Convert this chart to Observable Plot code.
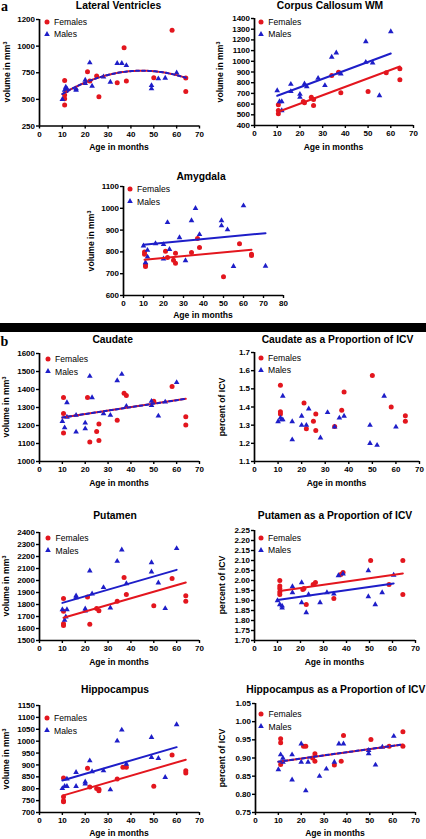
<!DOCTYPE html>
<html><head><meta charset="utf-8">
<script src="https://cdn.jsdelivr.net/npm/d3@7"></script>
<script src="https://cdn.jsdelivr.net/npm/@observablehq/plot@0.6"></script>
<style>
html,body{margin:0;padding:0;background:#fff;}
#chart{position:relative;width:426px;height:839px;overflow:hidden;font-family:"Liberation Sans",Arial,sans-serif;color:#000;background:#fff;}
.t{position:absolute;white-space:nowrap;line-height:1;}
sup{font-size:0.62em;vertical-align:0.55em;line-height:0;}
</style></head><body><div id="chart"></div>
<script>
// ---------------- DATA (age in months, value) ----------------
const ageTicks70 = [0,10,20,30,40,50,60,70];
const ageTicks80 = [0,10,20,30,40,50,60,70,80];

const lvYTicks = [250,500,750,1000,1250];
const lvYLabels = ["250","500","750","1000","1200"];
const lvFemales = [[11,678],[11,541],[11,506],[11,447],[21,759],[22,672],[25,719],[26,525],[34,656],[37,984],[38,672],[50,703],[58,1150],[64,700],[64,575]];
const lvMales = [[10,500],[11,588],[11.5,616],[12,600],[11.5,575],[16,600],[16,588],[20,681],[20,650],[22,844],[23,625],[28,712],[31,662],[34,838],[36,838],[38,819],[49,631],[49,600],[52,694],[55,700],[60,750]];

const ccYTicks = [400,500,600,700,800,900,1000,1100,1200,1300,1400];
const ccFemales = [[10.5,593],[10.5,540],[10.5,509],[21.5,624],[22,612],[25,665],[26,643],[26,587],[34,867],[37,898],[38,705],[50,718],[58,892],[64,930],[64,827]];
const ccMales = [[10,727],[11,624],[12,624],[12,540],[16,786],[16,718],[20,693],[20,665],[22,789],[23,764],[28,842],[31,774],[34,1039],[36,1079],[38,883],[49,1185],[49,992],[52,986],[55,680],[60,1278]];

const amYTicks = [600,700,800,900,1000,1100];
const amFemales = [[10.5,800],[10.5,789],[11,740],[11,733],[21,803],[22,774],[25,762],[26,794],[26,748],[34,797],[37,862],[38,820],[50,686],[58,837],[64,789],[64,783]];
const amMales = [[10,828],[12,808],[12,777],[11,751],[16,838],[20,834],[20,768],[22,935],[23,812],[28,866],[31,760],[34,944],[36,1000],[38,880],[49,944],[49,920],[52,902],[55,734],[60,1012],[71,735]];

const caYTicks = [1000,1100,1200,1300,1400,1500,1600];
const caFemales = [[10.5,1355],[10.5,1266],[10.5,1158],[21,1355],[22,1108],[25,1167],[26,1208],[26,1117],[34,1229],[37,1379],[38,1366],[50,1335],[58,1416],[64,1249],[64,1203]];
const caMales = [[10,1223],[11,1188],[12,1327],[12,1247],[16,1164],[16,1257],[20,1214],[20,1182],[22,1474],[23,1355],[28,1266],[31,1257],[34,1450],[36,1485],[38,1307],[49,1335],[49,1312],[52,1253],[55,1331],[60,1439]];

const caiYTicks = [1.1,1.2,1.3,1.4,1.5,1.6,1.7];
const caiFemales = [[11,1.52],[11,1.374],[11,1.361],[21,1.422],[22,1.28],[25,1.321],[26,1.361],[26,1.27],[34,1.292],[37,1.382],[38,1.482],[50,1.573],[58,1.40],[64,1.352],[64,1.321]];
const caiMales = [[10,1.32],[11,1.34],[11.5,1.33],[12,1.46],[12,1.33],[16,1.32],[16,1.22],[20,1.35],[20,1.30],[22,1.30],[23,1.39],[28,1.23],[31,1.37],[34,1.29],[36,1.34],[38,1.35],[49,1.30],[49,1.20],[52,1.19],[55,1.46],[60,1.29]];

const puYTicks = [1500,1600,1700,1800,1900,2000,2100,2200,2300,2400];
const puFemales = [[10.5,1850],[10.5,1744],[10.5,1640],[10.5,1625],[21,1862],[22,1636],[25,1767],[26,1747],[34,1828],[37,2025],[38,1883],[50,1789],[58,2017],[64,1872],[64,1828]];
const puMales = [[10,1758],[11,1669],[12,1758],[11.5,1697],[16,1872],[16,1858],[20,1764],[20,1747],[22,2081],[23,1889],[28,1942],[31,1772],[34,2161],[36,2256],[38,1975],[49,2150],[49,2072],[52,1981],[55,1767],[60,2267]];

const puiYTicks = [1.70,1.75,1.80,1.85,1.90,1.95,2.00,2.05,2.10,2.15,2.20,2.25];
const puiFemales = [[11,2.00],[11,1.973],[11,1.96],[11,1.943],[11,1.93],[21,1.955],[21.5,1.96],[22.5,1.88],[25.5,1.98],[26.5,1.99],[34.5,1.91],[37.5,2.03],[38.5,2.04],[50.5,2.10],[58.5,1.98],[64.5,2.10],[64.5,1.93]];
const puiMales = [[10,1.90],[11,1.88],[12,1.873],[12,1.863],[16.5,1.97],[16.5,1.94],[20.5,1.99],[20.5,1.89],[22.5,1.84],[23.5,1.93],[28.5,1.89],[31.5,1.94],[34.5,1.933],[36.5,2.025],[38.5,2.033],[49.5,2.05],[49.5,1.92],[52.5,1.88],[55.5,1.94],[60.5,2.027]];

const hiYTicks = [700,750,800,850,900,950,1000,1050,1100,1150];
const hiFemales = [[10.5,845],[10.5,766],[10.5,749],[10.5,745],[21,886],[22,807],[25,801],[26,798],[26,791],[34,841],[36.5,890],[38,890],[50,810],[58,942],[64,876],[64,866]];
const hiMales = [[10,801],[11,810],[12,841],[12,810],[16,869],[16,810],[20,829],[20,820],[22,918],[23,872],[28,876],[31,796],[34,1001],[36,1047],[38,904],[49,1016],[49,932],[52,928],[55,848],[60,1070]];

const hiiYTicks = [0.75,0.80,0.85,0.90,0.95,1.00,1.05];
const hiiFemales = [[11,0.953],[11,0.942],[11,0.882],[21,0.932],[22,0.932],[25,0.90],[26,0.912],[26,0.891],[34.5,0.881],[37.5,0.891],[38.5,0.962],[50.5,0.951],[58.5,0.932],[64.5,0.972],[64.5,0.932]];
const hiiMales = [[10,0.868],[11,0.909],[12,0.90],[12,0.889],[16,0.909],[16,0.84],[20,0.939],[20,0.889],[22,0.81],[23,0.889],[28,0.85],[31,0.87],[34.5,0.889],[36.5,0.939],[38.5,0.939],[49.5,0.921],[49.5,0.912],[52.5,0.881],[55.5,0.93],[60.5,0.96]];

// ---------------- STYLE / LAYOUT ----------------
const RED = "#e3161e", BLUE = "#1e1ec8";
const FONT = '"Liberation Sans", Arial, Helvetica, sans-serif';
const root = document.getElementById("chart");

function txt(html, x, y, o = {}) {
  const d = document.createElement("div");
  d.className = "t";
  d.innerHTML = html;
  d.style.left = x + "px";
  d.style.top = y + "px";
  d.style.fontSize = (o.size || 10) + "px";
  d.style.fontWeight = o.weight || "bold";
  if (o.family) d.style.fontFamily = o.family;
  d.style.transform = (o.left ? "translate(0,-50%)" : "translate(-50%,-50%)") + (o.rotate ? " rotate(-90deg)" : "");
  root.appendChild(d);
  return d;
}

function legend(cx, cy) {
  const gap = 12.3;
  const s = document.createElementNS("http://www.w3.org/2000/svg", "svg");
  s.setAttribute("width", 10); s.setAttribute("height", 24);
  s.style.position = "absolute"; s.style.left = (cx - 5) + "px"; s.style.top = (cy - 5) + "px"; s.style.overflow = "visible";
  s.innerHTML = `<circle cx="5" cy="5" r="2.5" fill="${RED}"/>` +
    `<path d="${d3.symbol(d3.symbolTriangle, Math.PI * 2.1 * 2.1)()}" transform="translate(5,${5 + gap})" fill="${BLUE}"/>`;
  root.appendChild(s);
  txt("Females", cx + 7.3, cy, {size: 8.6, weight: "normal", left: true});
  txt("Males", cx + 7.3, cy + gap, {size: 8.6, weight: "normal", left: true});
}

// quadratic least squares on pooled data
function quadFit(pts) {
  let n = 0, sx = 0, sx2 = 0, sx3 = 0, sx4 = 0, sy = 0, sxy = 0, sx2y = 0;
  for (const {x, y} of pts) { n++; sx += x; sx2 += x*x; sx3 += x**3; sx4 += x**4; sy += y; sxy += x*y; sx2y += x*x*y; }
  const A = [[n, sx, sx2, sy], [sx, sx2, sx3, sxy], [sx2, sx3, sx4, sx2y]];
  for (let i = 0; i < 3; i++) {
    for (let k = i + 1; k < 3; k++) {
      const f = A[k][i] / A[i][i];
      for (let j = i; j < 4; j++) A[k][j] -= f * A[i][j];
    }
  }
  const c = [0, 0, 0];
  for (let i = 2; i >= 0; i--) {
    let s = A[i][3];
    for (let j = i + 1; j < 3; j++) s -= A[i][j] * c[j];
    c[i] = s / A[i][i];
  }
  const [x0, x1] = d3.extent(pts, d => d.x);
  return d3.range(x0, x1 + 1e-9, (x1 - x0) / 80).map(x => ({x, y: c[0] + c[1]*x + c[2]*x*x}));
}

// ANCOVA-style fit: common (pooled within-group) slope, separate intercepts per group
function parallelFit(groups) {
  let sxy = 0, sxx = 0;
  const stats = groups.map(g => {
    const mx = d3.mean(g, d => d.x), my = d3.mean(g, d => d.y);
    for (const d of g) { sxy += (d.x - mx) * (d.y - my); sxx += (d.x - mx) ** 2; }
    return {mx, my, ext: d3.extent(g, d => d.x)};
  });
  const b = sxy / sxx;
  return stats.map(s => s.ext.map(x => ({x, y: s.my + b * (x - s.mx)})));
}

function panel(p) {
  const mL = 38, mR = 8, mT = 8, mB = 18;
  const W = p.fx[1] - p.fx[0] + mL + mR, H = p.fy[1] - p.fy[0] + mT + mB;
  const F = p.f.map(([x, y]) => ({x, y}));
  const M = p.m.map(([x, y]) => ({x, y}));
  const all = F.concat(M);
  const marks = [
    Plot.axisX({ticks: p.xTicks, tickSize: 3, tickPadding: 2, label: null, strokeWidth: 1.4, tickFormat: d3.format("d")}),
    Plot.axisY({ticks: p.yTicks, tickSize: 3, tickPadding: 1.5, label: null, strokeWidth: 1.4, tickFormat: p.yFmt}),
    Plot.ruleX([p.xDomain[0]], {strokeWidth: 1.7}),
    Plot.ruleY([p.yDomain[0]], {strokeWidth: 1.7}),
    Plot.dot(F, {x: "x", y: "y", r: 2.5, fill: RED, symbol: "circle"}),
    Plot.dot(M, {x: "x", y: "y", r: 2.1, fill: BLUE, symbol: "triangle"})
  ];
  if (p.fit === "sex") {
    const [lf, lm] = parallelFit([F, M]);
    marks.push(Plot.line(lf, {x: "x", y: "y", stroke: RED, strokeWidth: 2}));
    marks.push(Plot.line(lm, {x: "x", y: "y", stroke: BLUE, strokeWidth: 2}));
  } else if (p.fit === "all") {
    marks.push(Plot.linearRegressionY(all, {x: "x", y: "y", stroke: RED, strokeWidth: 2, ci: 0}));
    marks.push(Plot.linearRegressionY(all, {x: "x", y: "y", stroke: BLUE, strokeWidth: 2, ci: 0, strokeDasharray: "3,3"}));
  } else if (p.fit === "quad") {
    const curve = quadFit(all);
    marks.push(Plot.line(curve, {x: "x", y: "y", stroke: RED, strokeWidth: 2}));
    marks.push(Plot.line(curve, {x: "x", y: "y", stroke: BLUE, strokeWidth: 2, strokeDasharray: "3,3"}));
  }
  const svg = Plot.plot({
    width: W, height: H, marginLeft: mL, marginRight: mR, marginTop: mT, marginBottom: mB,
    x: {domain: p.xDomain}, y: {domain: p.yDomain},
    style: {fontFamily: FONT, fontSize: "8px", fontWeight: "bold", color: "#000", background: "transparent", overflow: "visible"},
    marks
  });
  svg.style.position = "absolute";
  svg.style.left = (p.fx[0] - mL) + "px";
  svg.style.top = (p.fy[0] - mT) + "px";
  svg.style.maxWidth = "none";
  root.appendChild(svg);

  txt(p.title, p.titleX, p.titleY, {size: 10.3});
  txt("Age in months", (p.fx[0] + p.fx[1]) / 2, p.xlabY, {size: 8.6});
  txt(p.ylab, p.ylabX, (p.fy[0] + p.fy[1]) / 2, {size: 8.6, rotate: true});
  legend(p.leg[0], p.leg[1]);
}

const VOL = "volume in mm<sup>3</sup>", PCT = "percent of ICV";
const fmtD = d3.format("d"), f1 = d3.format(".1f"), f2 = d3.format(".2f");

const panels = [
  {title: "Lateral Ventricles", titleX: 118.5, titleY: 5.5, fx: [39, 199], fy: [18.5, 125], xDomain: [0, 70], xTicks: ageTicks70,
   yDomain: [250, 1250], yTicks: lvYTicks, yFmt: d => lvYLabels[lvYTicks.indexOf(d)], ylab: VOL, ylabX: 6.7, xlabY: 146.7, leg: [46.7, 21.7], fit: "quad", f: lvFemales, m: lvMales},
  {title: "Corpus Callosum WM", titleX: 330, titleY: 5.5, fx: [254, 413], fy: [18, 125], xDomain: [0, 70], xTicks: ageTicks70,
   yDomain: [400, 1400], yTicks: ccYTicks, yFmt: fmtD, ylab: VOL, ylabX: 220, xlabY: 146.7, leg: [261, 21.7], fit: "sex", f: ccFemales, m: ccMales},
  {title: "Amygdala", titleX: 201, titleY: 176.7, fx: [123, 283], fy: [186, 295], xDomain: [0, 80], xTicks: ageTicks80,
   yDomain: [600, 1100], yTicks: amYTicks, yFmt: fmtD, ylab: VOL, ylabX: 90.5, xlabY: 315, leg: [129.7, 189.3], fit: "sex", f: amFemales, m: amMales},
  {title: "Caudate", titleX: 112.7, titleY: 340, fx: [39, 199], fy: [353, 461], xDomain: [0, 70], xTicks: ageTicks70,
   yDomain: [1000, 1600], yTicks: caYTicks, yFmt: fmtD, ylab: VOL, ylabX: 5.5, xlabY: 483.3, leg: [47.7, 359.3], fit: "all", f: caFemales, m: caMales},
  {title: "Caudate as a Proportion of ICV", titleX: 337.5, titleY: 340, fx: [254, 419], fy: [352, 461], xDomain: [0, 70], xTicks: ageTicks70,
   yDomain: [1.1, 1.7], yTicks: caiYTicks, yFmt: f1, ylab: PCT, ylabX: 222.3, xlabY: 483.3, leg: [260.7, 357.7], fit: "none", f: caiFemales, m: caiMales},
  {title: "Putamen", titleX: 115, titleY: 515.7, fx: [39, 199], fy: [532, 640], xDomain: [0, 70], xTicks: ageTicks70,
   yDomain: [1500, 2400], yTicks: puYTicks, yFmt: fmtD, ylab: VOL, ylabX: 5.5, xlabY: 661.7, leg: [48.3, 538.3], fit: "sex", f: puFemales, m: puMales},
  {title: "Putamen as a Proportion of ICV", titleX: 335, titleY: 515.7, fx: [254, 415], fy: [530, 640], xDomain: [0, 70], xTicks: ageTicks70,
   yDomain: [1.70, 2.25], yTicks: puiYTicks, yFmt: f2, ylab: PCT, ylabX: 222.3, xlabY: 661.7, leg: [260.7, 537.7], fit: "sex", f: puiFemales, m: puiMales},
  {title: "Hippocampus", titleX: 115, titleY: 690, fx: [39, 199], fy: [705, 812], xDomain: [0, 70], xTicks: ageTicks70,
   yDomain: [700, 1150], yTicks: hiYTicks, yFmt: fmtD, ylab: VOL, ylabX: 5.5, xlabY: 833.3, leg: [46.7, 718.3], fit: "sex", f: hiFemales, m: hiMales},
  {title: "Hippocampus as a Proportion of ICV", titleX: 335.8, titleY: 690, fx: [255, 415], fy: [703, 812], xDomain: [0, 70], xTicks: ageTicks70,
   yDomain: [0.75, 1.05], yTicks: hiiYTicks, yFmt: f2, ylab: PCT, ylabX: 222.3, xlabY: 833.3, leg: [261.3, 714.3], fit: "all", f: hiiFemales, m: hiiMales}
];

panels.forEach(panel);

// separator bar and panel letters
const bar = document.createElement("div");
bar.style.cssText = "position:absolute;left:0;top:323px;width:426px;height:9px;background:#000;";
root.appendChild(bar);
txt("a", 4.5, 6.5, {size: 14, family: '"Liberation Serif", "DejaVu Serif", serif'});
txt("b", 4.5, 341.5, {size: 14, family: '"Liberation Serif", "DejaVu Serif", serif'});
</script></body></html>
